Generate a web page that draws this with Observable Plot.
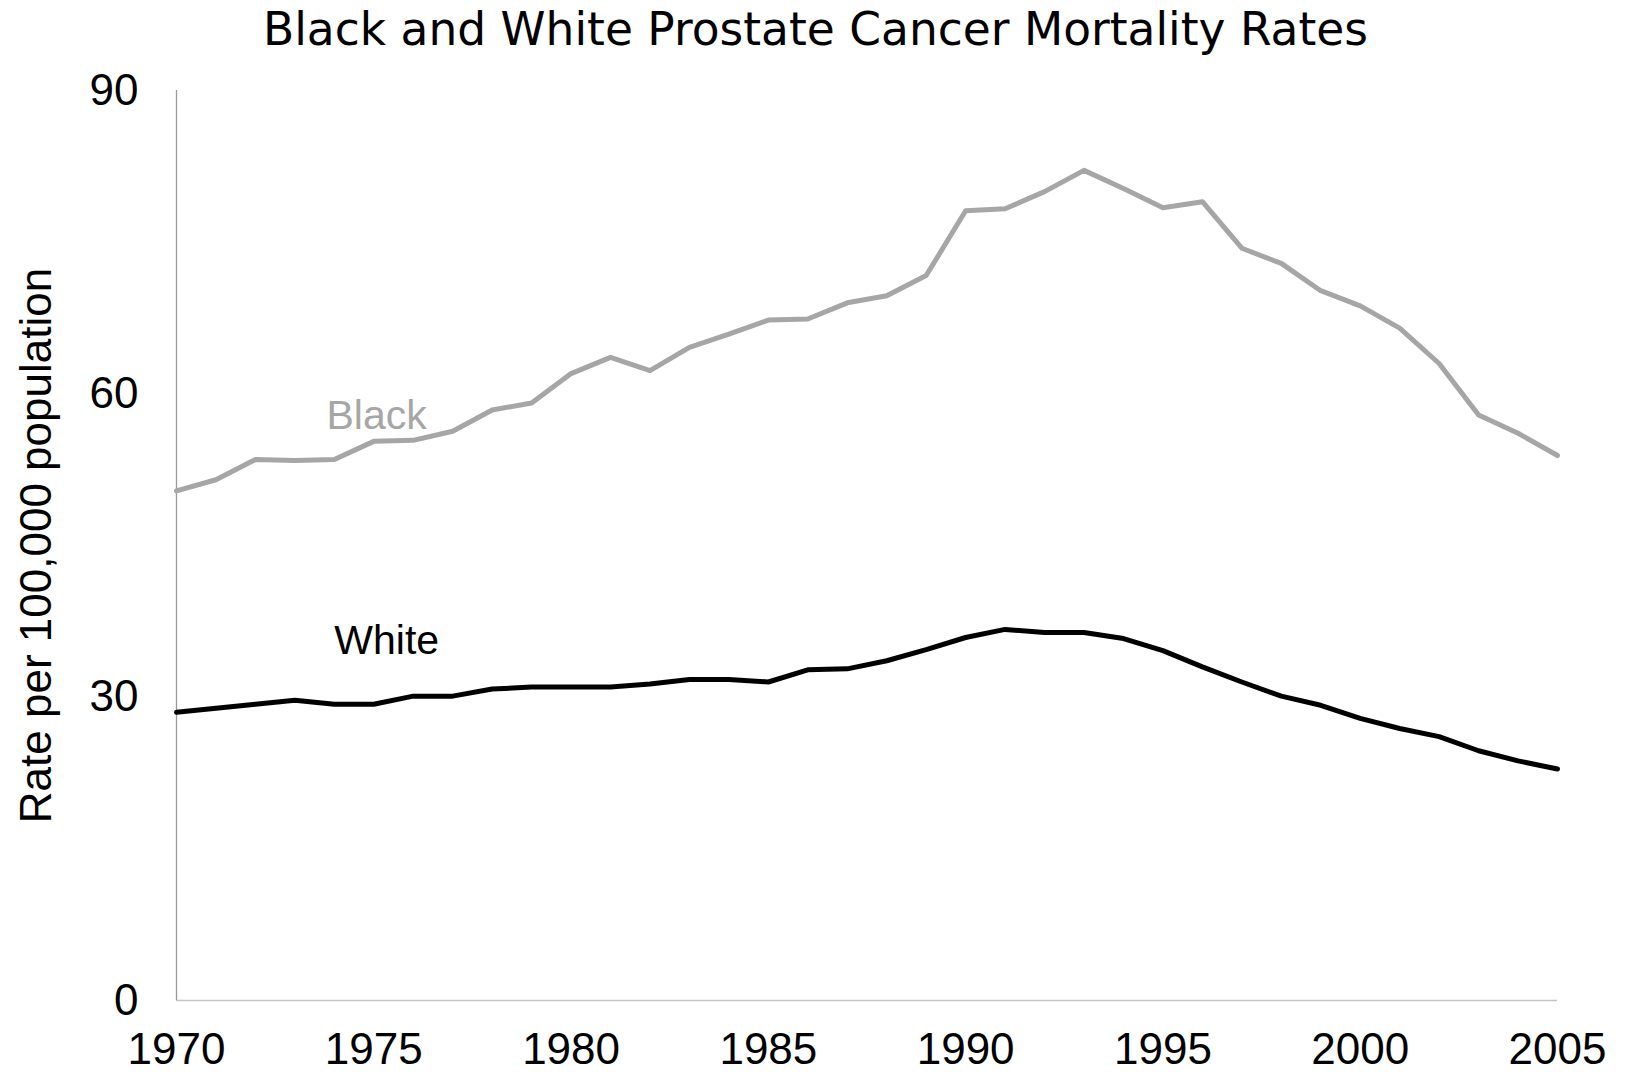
<!DOCTYPE html>
<html>
<head>
<meta charset="utf-8">
<script src="https://cdn.jsdelivr.net/npm/d3@7"></script>
<script src="https://cdn.jsdelivr.net/npm/@observablehq/plot@0.6"></script>
<style>
  body { margin: 0; background: #fff; }
  #title {
    width: 1631px; height: 60px; box-sizing: border-box; padding-top: 6.5px;
    font-family: "DejaVu Sans", sans-serif; font-size: 45.5px; line-height: 46px;
    text-align: center; color: #000; white-space: nowrap;
  }
</style>
</head>
<body>
<div id="title">Black and White Prostate Cancer Mortality Rates</div>
<div id="chart"></div>
<script>
// ---- data ----
const years = [1970, 1971, 1972, 1973, 1974, 1975, 1976, 1977, 1978, 1979,
               1980, 1981, 1982, 1983, 1984, 1985, 1986, 1987, 1988, 1989,
               1990, 1991, 1992, 1993, 1994, 1995, 1996, 1997, 1998, 1999,
               2000, 2001, 2002, 2003, 2004, 2005];
const blackRates = [50.4, 51.5, 53.5, 53.4, 53.5, 55.3, 55.4, 56.3, 58.4, 59.1,
                    62.0, 63.6, 62.3, 64.6, 65.9, 67.3, 67.4, 69.0, 69.7, 71.7,
                    78.1, 78.3, 80.0, 82.1, 80.3, 78.4, 79.0, 74.4, 72.9, 70.2,
                    68.7, 66.5, 63.0, 57.9, 56.1, 53.9];
const whiteRates = [28.5, 28.9, 29.3, 29.7, 29.3, 29.3, 30.1, 30.1, 30.8, 31.0,
                    31.0, 31.0, 31.3, 31.75, 31.75, 31.5, 32.7, 32.8, 33.6, 34.7,
                    35.9, 36.7, 36.4, 36.4, 35.8, 34.6, 33.0, 31.5, 30.1, 29.2,
                    27.9, 26.9, 26.1, 24.7, 23.7, 22.9];
const xTicks = [1970, 1975, 1980, 1985, 1990, 1995, 2000, 2005];
const yTicks = [0, 30, 60, 90];
const seriesNames = ["Black", "White"];
const labelYears = [1973.8, 1974.0];
const labelValues = [56.5, 34.3];
const yLabel = "Rate per 100,000 population";

// ---- build tables ----
const blackRows = years.map((yr, i) => ({year: yr, rate: blackRates[i]}));
const whiteRows = years.map((yr, i) => ({year: yr, rate: whiteRates[i]}));

const FONT = '"Liberation Sans", Arial, Helvetica, sans-serif';
const GRAY = "#a6a6a6";

const chart = Plot.plot({
  width: 1636,
  height: 1014,
  marginTop: 30,
  marginBottom: 74,
  marginLeft: 176,
  marginRight: 79,
  style: {fontFamily: FONT, background: "#fff", color: "#000"},
  x: {domain: [1970, 2005]},
  y: {domain: [0, 90]},
  marks: [
    Plot.axisX({ticks: xTicks, tickFormat: d => String(d), tickSize: 0, tickPadding: 32,
                fontSize: 44, fontFamily: FONT, label: null, fill: "#000"}),
    Plot.axisY({ticks: yTicks, tickSize: 0, tickPadding: 38,
                fontSize: 44, fontFamily: FONT, label: null, fill: "#000"}),
    Plot.ruleY([0], {stroke: "#c4c4c4", strokeWidth: 1.5}),
    Plot.ruleX([1970], {y1: 0, y2: 90, stroke: "#9a9a9a", strokeWidth: 1.3}),
    Plot.line(blackRows, {x: "year", y: "rate", stroke: GRAY, strokeWidth: 5}),
    Plot.line(whiteRows, {x: "year", y: "rate", stroke: "#000", strokeWidth: 5}),
    Plot.text([seriesNames[0]], {x: [labelYears[0]], y: [labelValues[0]], text: d => d,
      textAnchor: "start", lineAnchor: "bottom", fontSize: 41, fontFamily: FONT, fill: GRAY}),
    Plot.text([seriesNames[1]], {x: [labelYears[1]], y: [labelValues[1]], text: d => d,
      textAnchor: "start", lineAnchor: "bottom", fontSize: 41, fontFamily: FONT, fill: "#000"}),
    Plot.text([yLabel], {frameAnchor: "left", text: d => d, rotate: -90, dx: -126,
      textAnchor: "middle", lineAnchor: "bottom", fontSize: 44, fontFamily: FONT, fill: "#000"})
  ]
});
document.getElementById("chart").appendChild(chart);
</script>
</body>
</html>
